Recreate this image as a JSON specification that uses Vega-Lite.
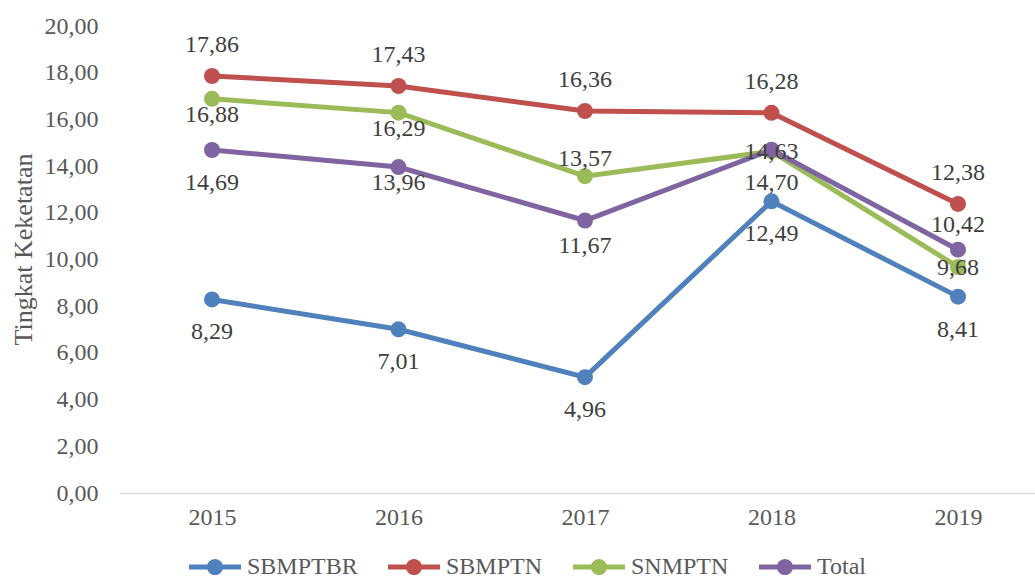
{
  "$schema": "https://vega.github.io/schema/vega-lite/v6.json",
  "width": 916,
  "height": 467,
  "autosize": "none",
  "padding": {"left": 119, "top": 26, "right": 0, "bottom": 84},
  "background": "white",
  "config": {
    "view": {"stroke": null},
    "font": "Liberation Serif",
    "text": {"font": "Liberation Serif"},
    "axis": {"labelFont": "Liberation Serif", "titleFont": "Liberation Serif"},
    "legend": {"labelFont": "Liberation Serif", "titleFont": "Liberation Serif"}
  },
  "data": {
    "values": [
      {"year": "2015", "series": "SBMPTBR", "value": 8.29, "pos": "below"},
      {"year": "2016", "series": "SBMPTBR", "value": 7.01, "pos": "below"},
      {"year": "2017", "series": "SBMPTBR", "value": 4.96, "pos": "below"},
      {"year": "2018", "series": "SBMPTBR", "value": 12.49, "pos": "below"},
      {"year": "2019", "series": "SBMPTBR", "value": 8.41, "pos": "below"},
      {"year": "2015", "series": "SBMPTN", "value": 17.86, "pos": "above"},
      {"year": "2016", "series": "SBMPTN", "value": 17.43, "pos": "above"},
      {"year": "2017", "series": "SBMPTN", "value": 16.36, "pos": "above"},
      {"year": "2018", "series": "SBMPTN", "value": 16.28, "pos": "above"},
      {"year": "2019", "series": "SBMPTN", "value": 12.38, "pos": "above"},
      {"year": "2015", "series": "SNMPTN", "value": 16.88, "pos": "belowNear"},
      {"year": "2016", "series": "SNMPTN", "value": 16.29, "pos": "belowNear"},
      {"year": "2017", "series": "SNMPTN", "value": 13.57, "pos": "aboveNear"},
      {"year": "2018", "series": "SNMPTN", "value": 14.63, "pos": "center"},
      {"year": "2019", "series": "SNMPTN", "value": 9.68, "pos": "center"},
      {"year": "2015", "series": "Total", "value": 14.69, "pos": "below"},
      {"year": "2016", "series": "Total", "value": 13.96, "pos": "belowNear"},
      {"year": "2017", "series": "Total", "value": 11.67, "pos": "belowMid"},
      {"year": "2018", "series": "Total", "value": 14.70, "pos": "below"},
      {"year": "2019", "series": "Total", "value": 10.42, "pos": "aboveMid"}
    ]
  },
  "transform": [
    {"calculate": "replace(format(datum.value, '.2f'), '.', ',')", "as": "label"}
  ],
  "encoding": {
    "x": {
      "field": "year",
      "type": "ordinal",
      "scale": {"type": "point", "padding": 0.4558, "align": 0.547},
      "axis": {
        "title": null,
        "labelAngle": 0,
        "labelFontSize": 24,
        "labelColor": "#595959",
        "labelFont": "Liberation Serif",
        "labelPadding": 12,
        "ticks": false,
        "grid": false,
        "domainColor": "#D9D9D9",
        "domainWidth": 1.5
      }
    },
    "y": {
      "field": "value",
      "type": "quantitative",
      "scale": {"domain": [0, 20], "nice": false},
      "axis": {
        "values": [0, 2, 4, 6, 8, 10, 12, 14, 16, 18, 20],
        "labelExpr": "replace(format(datum.value, '.2f'), '.', ',')",
        "labelFontSize": 24,
        "labelColor": "#595959",
        "labelFont": "Liberation Serif",
        "labelPadding": 21,
        "domain": false,
        "ticks": false,
        "grid": false,
        "title": "Tingkat Keketatan",
        "titleFont": "Liberation Serif",
        "titleFontSize": 26,
        "titleFontWeight": "normal",
        "titleColor": "#595959",
        "titleAngle": -90,
        "titleX": -96,
        "titleY": 223,
        "titleAlign": "center",
        "titleBaseline": "middle"
      }
    }
  },
  "layer": [
    {
      "mark": {"type": "line", "strokeWidth": 5},
      "encoding": {
        "color": {
          "field": "series",
          "type": "nominal",
          "scale": {"domain": ["SBMPTBR", "SBMPTN", "SNMPTN", "Total"], "range": ["#4F81BD", "#C0504D", "#9BBB59", "#8064A2"]},
          "legend": {
            "orient": "none",
            "legendX": 70,
            "legendY": 515,
            "direction": "horizontal",
            "title": null,
            "symbolType": "M-1,-0.1H1V0.1H-1Z M-0.31,0 A0.31,0.31 0 1,1 0.31,0 A0.31,0.31 0 1,1 -0.31,0 Z",
            "symbolSize": 2704,
            "symbolStrokeWidth": 0,
            "symbolOpacity": 1,
            "labelFont": "Liberation Serif",
            "labelFontSize": 24,
            "labelColor": "#595959",
            "labelOffset": 6,
            "columnPadding": 30,
            "padding": 0,
            "encode": {
              "symbols": {"update": {"fill": {"scale": "color", "field": "value"}, "opacity": {"value": 1}}},
              "labels": {"update": {"font": {"value": "Liberation Serif"}}}
            }
          }
        }
      }
    },
    {
      "mark": {"type": "point", "filled": true, "size": 256, "opacity": 1},
      "encoding": {"color": {"field": "series", "type": "nominal"}}
    },
    {
      "transform": [{"filter": "datum.pos === 'above'"}],
      "mark": {"type": "text", "fontSize": 24, "color": "#404040", "baseline": "middle", "dy": -31},
      "encoding": {"text": {"field": "label"}}
    },
    {
      "transform": [{"filter": "datum.pos === 'aboveMid'"}],
      "mark": {"type": "text", "fontSize": 24, "color": "#404040", "baseline": "middle", "dy": -25},
      "encoding": {"text": {"field": "label"}}
    },
    {
      "transform": [{"filter": "datum.pos === 'aboveNear'"}],
      "mark": {"type": "text", "fontSize": 24, "color": "#404040", "baseline": "middle", "dy": -17},
      "encoding": {"text": {"field": "label"}}
    },
    {
      "transform": [{"filter": "datum.pos === 'center'"}],
      "mark": {"type": "text", "fontSize": 24, "color": "#404040", "baseline": "middle", "dy": 1},
      "encoding": {"text": {"field": "label"}}
    },
    {
      "transform": [{"filter": "datum.pos === 'belowNear'"}],
      "mark": {"type": "text", "fontSize": 24, "color": "#404040", "baseline": "middle", "dy": 16},
      "encoding": {"text": {"field": "label"}}
    },
    {
      "transform": [{"filter": "datum.pos === 'belowMid'"}],
      "mark": {"type": "text", "fontSize": 24, "color": "#404040", "baseline": "middle", "dy": 25},
      "encoding": {"text": {"field": "label"}}
    },
    {
      "transform": [{"filter": "datum.pos === 'below'"}],
      "mark": {"type": "text", "fontSize": 24, "color": "#404040", "baseline": "middle", "dy": 33},
      "encoding": {"text": {"field": "label"}}
    }
  ]
}
